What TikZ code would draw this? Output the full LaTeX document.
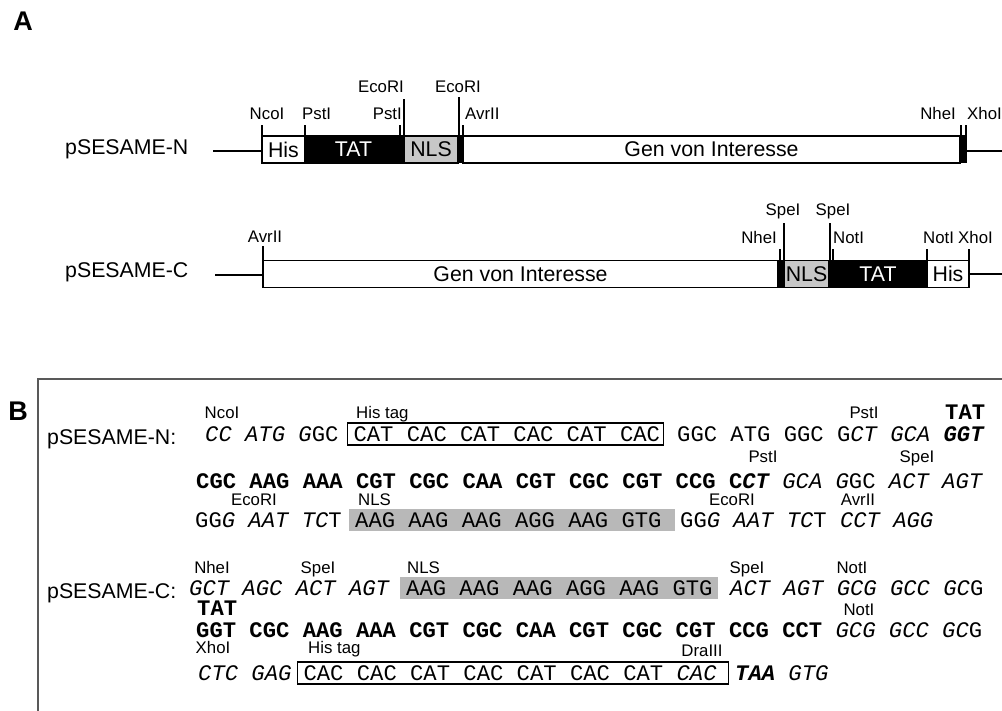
\documentclass[tikz,border=0pt]{standalone}
\usepackage{fontspec}
\setmainfont{Liberation Sans}
\newfontfamily\seqfont{Liberation Mono}
\usetikzlibrary{positioning}

\newcommand{\constrfont}{\fontsize{21.3}{25}\selectfont}
\newcommand{\sitefont}{\fontsize{16.8}{19}\selectfont}
\newcommand{\dnafont}{\seqfont\fontsize{22.2}{26}\selectfont}
\newcommand{\codons}[2]{\makebox[#1][l]{#2}}
\definecolor{nlsgray}{gray}{0.78}
\definecolor{hlgray}{gray}{0.72}
\definecolor{framegray}{gray}{0.35}

\begin{document}
\begin{tikzpicture}[x=1pt, y=1pt,
  seg/.style={draw, line width=1.6pt, inner sep=0pt, outer sep=0pt,
              minimum height=27pt, font=\constrfont},
  bar/.style={draw, fill=black, line width=1pt, inner sep=0pt, outer sep=0pt,
              minimum height=27pt},
  bb/.style={line width=1.6pt},
  tick/.style={line width=1.3pt},
  site/.style={font=\sitefont, inner sep=0pt, anchor=base,
               text height=12.5pt, text depth=3.5pt},
  panel/.style={font=\bfseries\fontsize{27}{30}\selectfont, inner sep=0pt},
  cname/.style={font=\constrfont, inner sep=0pt, anchor=base west},
  dna/.style={font=\dnafont, inner sep=0pt, anchor=base west,
              text height=15pt, text depth=3pt},
  tagbox/.style={draw, line width=1.2pt, font=\dnafont, inner xsep=6pt,
                 inner ysep=0pt, text height=18pt, text depth=4pt, anchor=base west},
  nlsbox/.style={fill=hlgray, font=\dnafont, inner xsep=6pt, inner ysep=0pt,
                 text height=18pt, text depth=4pt, anchor=base west},
  frame/.style={draw=framegray, line width=1.8pt}
]
\useasboundingbox (0,0) rectangle (1002,-711);

% ---------------- panel A ----------------
\node[panel] (labA) at (23,-21) {A};

% pSESAME-N
\node[cname] (nameN) at (65,-155) {pSESAME-N};
\node[seg, minimum width=43pt] (hisN) at (283.5,-149.5) {His};
\node[seg, fill=black, text=white, minimum width=97pt, right=0pt of hisN] (tatN) {TAT};
\node[seg, fill=nlsgray, minimum width=54pt, right=2pt of tatN] (nlsN) {NLS};
\node[bar, minimum width=5pt, right=0pt of nlsN] (linkN) {};
\node[seg, minimum width=497pt, right=0pt of linkN] (genN) {Gen von Interesse};
\node[bar, minimum width=6pt, right=0pt of genN] (endN) {};
\coordinate (lN) at (213,-151);
\coordinate (rN) at (1002,-151);
\draw[bb] (lN) -- (lN -| hisN.west);
\draw[bb] (endN.east |- rN) -- (rN);

\draw[tick] (hisN.north west) -- ++(0,11);
\draw[tick] (hisN.north east) -- ++(0,11);
\draw[tick] ([xshift=-2pt]tatN.north east) -- ++(0,11);
\draw[tick] (nlsN.north west) -- ++(0,37);
\draw[tick] ([xshift=1pt]nlsN.north east) -- ++(0,39);
\draw[tick] (genN.north west) -- ++(0,11);
\draw[tick] ([xshift=1pt]genN.north east) -- ++(0,11);
\draw[tick] (endN.north east) -- ++(0,11);

\node[site] (ncoN) at (267,-120) {NcoI};
\node[site, anchor=base west] (pstN1) at (302,-120) {PstI};
\node[site, anchor=base east] (pstN2) at (402,-120) {PstI};
\node[site] (ecoN1) at (381,-92.5) {EcoRI};
\node[site] (ecoN2) at (458,-92.5) {EcoRI};
\node[site, anchor=base west] (avrN) at (465,-120) {AvrII};
\node[site, anchor=base east] (nheN) at (956,-120) {NheI};
\node[site, anchor=base west] (xhoN) at (967,-120) {XhoI};

% pSESAME-C
\node[cname] (nameC) at (65,-278) {pSESAME-C};
\node[seg, minimum width=515pt] (genC) at (520.5,-274) {Gen von Interesse};
\node[bar, minimum width=6pt, right=0pt of genC] (linkC) {};
\node[seg, fill=nlsgray, minimum width=45pt, right=0pt of linkC] (nlsC) {NLS};
\node[seg, fill=black, text=white, minimum width=98pt, right=0pt of nlsC] (tatC) {TAT};
\node[seg, minimum width=42pt, right=0pt of tatC] (hisC) {His};
\coordinate (lC) at (215,-275);
\coordinate (rC) at (1002,-274);
\draw[bb] (lC) -- (lC -| genC.west);
\draw[bb] (hisC.east |- rC) -- (rC);

\draw[tick] (genC.north west) -- ++(0,14);
\draw[tick] ([xshift=2pt]genC.north east) -- ++(0,11);
\draw[tick] (linkC.north east) -- ++(0,37);
\draw[tick] ([xshift=1pt]nlsC.north east) -- ++(0,37);
\draw[tick] ([xshift=4pt]nlsC.north east) -- ++(0,11);
\draw[tick] (tatC.north east) -- ++(0,11);
\draw[tick] (hisC.north east) -- ++(0,11);

\node[site] (avrC) at (265,-243) {AvrII};
\node[site, anchor=base east] (nheC) at (777,-244) {NheI};
\node[site] (speC1) at (783,-216) {SpeI};
\node[site] (speC2) at (833,-216) {SpeI};
\node[site, anchor=base west] (notC1) at (833,-244) {NotI};
\node[site, anchor=base west] (notC2) at (923,-244) {NotI};
\node[site, anchor=base west] (xhoC) at (958,-244) {XhoI};

% ---------------- panel B ----------------
\node[panel] (labB) at (18,-411) {B};
\coordinate (frTR) at (1010,-379);
\coordinate (frBL) at (38,-720);
\draw[frame] (frTR) -| (frBL);

% pSESAME-N sequence
\node[cname] (seqnameN) at (47,-444) {pSESAME-N:};
\node[dna] (n1a) at (205,-441) {{\itshape CC ATG G}GC};
\node[tagbox] (n1b) at (347,-441) {\codons{304pt}{CAT CAC CAT CAC CAT CAC}};
\node[dna] (n1c) at (677,-441) {GGC ATG GGC G{\itshape CT GCA} {\bfseries\itshape GGT}};
\node[dna, font=\dnafont\bfseries] (tat1) at (945,-420) {TAT};
\node[site] (nco1) at (222,-418.5) {NcoI};
\node[site, anchor=base west] (his1) at (356,-418.5) {His tag};
\node[site] (pst1) at (864,-418.5) {PstI};

\node[dna] (n2a) at (196,-488) {{\bfseries CGC AAG AAA CGT CGC CAA CGT CGC CGT CCG C{\itshape CT}}
  {\itshape GCA G}GC {\itshape ACT AGT}};
\node[site] (pst2) at (763,-462) {PstI};
\node[site] (spe2) at (917,-462) {SpeI};

\node[dna] (n3a) at (195,-527) {GG{\itshape G AAT TC}T};
\node[nlsbox] (n3b) at (349,-527) {\codons{314pt}{AAG AAG AAG AGG AAG GTG}};
\node[dna] (n3c) at (680,-527) {GG{\itshape G AAT TC}T {\itshape CCT AGG}};
\node[site] (eco3a) at (254,-505) {EcoRI};
\node[site, anchor=base west] (nls3) at (358,-505) {NLS};
\node[site] (eco3b) at (732,-505) {EcoRI};
\node[site] (avr3) at (858,-505) {AvrII};

% pSESAME-C sequence
\node[cname] (seqnameC) at (47,-598) {pSESAME-C:};
\node[dna] (n4a) at (189,-595) {{\itshape GCT AGC ACT AGT}};
\node[nlsbox] (n4b) at (400,-595) {\codons{306pt}{AAG AAG AAG AGG AAG GTG}};
\node[dna] (n4c) at (730,-595) {{\itshape ACT AGT GCG GCC GC}G};
\node[site] (nhe4) at (212,-573.5) {NheI};
\node[site] (spe4a) at (318,-573.5) {SpeI};
\node[site, anchor=base west] (nls4) at (407,-573.5) {NLS};
\node[site] (spe4b) at (747,-573.5) {SpeI};
\node[site] (not4) at (852,-573.5) {NotI};

\node[dna, font=\dnafont\bfseries] (tat5) at (197,-615) {TAT};
\node[dna] (n5a) at (196,-637) {{\bfseries GGT CGC AAG AAA CGT CGC CAA CGT CGC CGT CCG CCT}
  {\itshape GCG GCC GC}G};
\node[site] (not5) at (859,-615.5) {NotI};

\node[dna] (n6a) at (198,-680) {{\itshape CTC GAG}};
\node[tagbox] (n6b) at (297,-680) {\codons{419pt}{CAC CAC CAT CAC CAT CAC CAT {\itshape CAC}}};
\node[dna] (n6c) at (735,-680) {{\bfseries\itshape TAA} {\itshape GTG}};
\node[site] (xho6) at (213,-653.5) {XhoI};
\node[site, anchor=base west] (his6) at (308,-653.5) {His tag};
\node[site] (dra6) at (702,-656) {DraIII};
\end{tikzpicture}
\end{document}
